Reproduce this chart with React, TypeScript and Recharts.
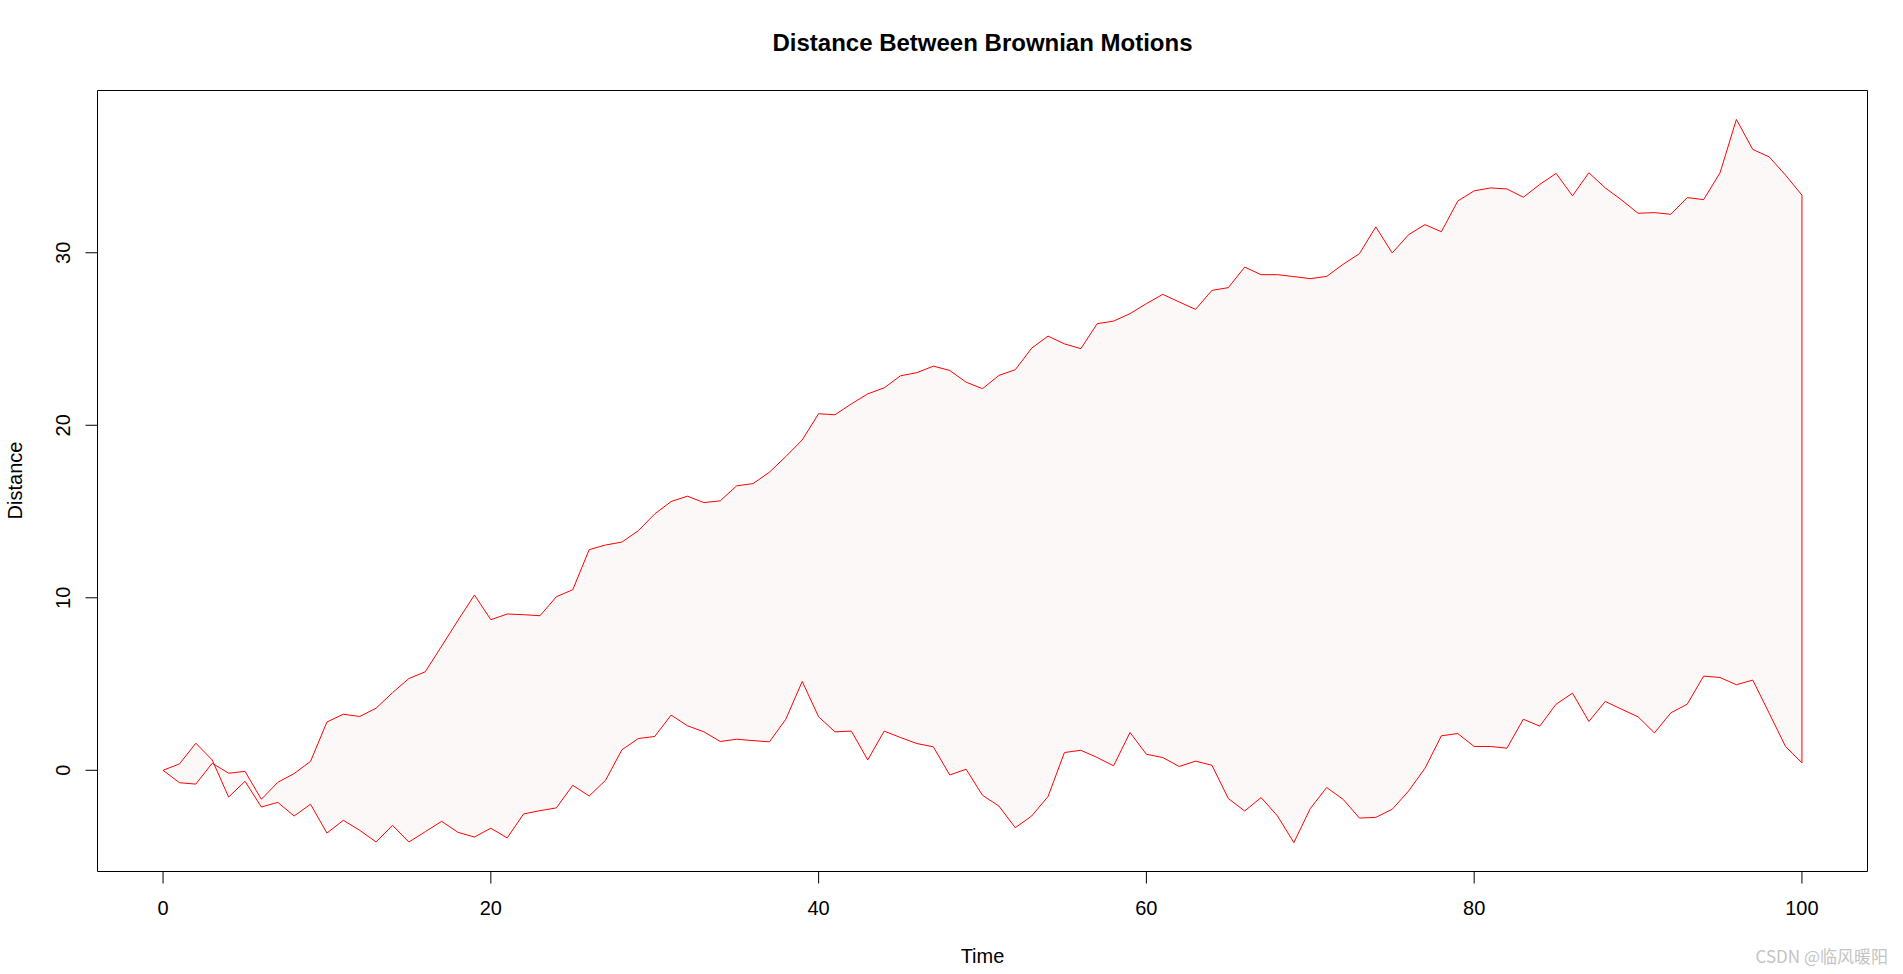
import {
  ComposedChart,
  Area,
  Line,
  XAxis,
  YAxis,
  ReferenceArea,
  ReferenceLine,
} from "recharts";

// two paths, t = 0..100
const motionA = [
  0, 0.37, 1.57, 0.6, -1.55, -0.64, -2.13, -1.86, -2.65, -1.97, -3.64,
  -2.9, -3.48, -4.16, -3.19, -4.16, -3.56, -2.96, -3.6, -3.87, -3.36,
  -3.92, -2.53, -2.34, -2.18, -0.87, -1.49, -0.58, 1.19, 1.84, 1.96,
  3.2, 2.58, 2.23, 1.67, 1.8, 1.72, 1.65, 2.96, 5.15, 3.1,
  2.23, 2.27, 0.6, 2.27, 1.9, 1.55, 1.36, -0.27, 0.06, -1.45,
  -2.07, -3.33, -2.65, -1.52, 1.03, 1.16, 0.74, 0.26, 2.19, 0.93,
  0.74, 0.22, 0.53, 0.29, -1.64, -2.36, -1.58, -2.65, -4.19, -2.22,
  -1.0, -1.68, -2.77, -2.73, -2.26, -1.2, 0.12, 2.0, 2.13, 1.38,
  1.38, 1.28, 2.96, 2.56, 3.83, 4.47, 2.83, 3.99, 3.54, 3.1,
  2.17, 3.33, 3.83, 5.46, 5.38, 4.96, 5.23, 3.31, 1.38, 0.43,
];

const motionB = [
  0, -0.72, -0.8, 0.41, -0.17, -0.06, -1.68, -0.7, -0.19, 0.52, 2.8,
  3.25, 3.12, 3.6, 4.5, 5.32, 5.71, 7.2, 8.7, 10.16, 8.73,
  9.06, 9.02, 8.96, 10.06, 10.47, 12.79, 13.06, 13.23, 13.89, 14.86,
  15.58, 15.89, 15.52, 15.62, 16.49, 16.62, 17.28, 18.19, 19.15, 20.67,
  20.61, 21.24, 21.82, 22.17, 22.87, 23.05, 23.43, 23.18, 22.5, 22.12,
  22.89, 23.22, 24.47, 25.17, 24.72, 24.44, 25.89, 26.04, 26.47, 27.05,
  27.59, 27.15, 26.72, 27.82, 27.98, 29.17, 28.73, 28.73, 28.62, 28.5,
  28.63, 29.33, 29.95, 31.5, 29.99, 31.05, 31.63, 31.22, 33.0, 33.59,
  33.76, 33.7, 33.22, 33.96, 34.6, 33.3, 34.64, 33.76, 33.06, 32.29,
  32.33, 32.23, 33.2, 33.08, 34.63, 37.73, 35.99, 35.56, 34.5, 33.34,
];

const xTicks = [0, 20, 40, 60, 80, 100];
const yTicks = [0, 10, 20, 30];

const rows = motionA.map((a, i) => ({
  time: i,
  a,
  b: motionB[i],
  band: [a, motionB[i]],
}));

// R-style 4% axis padding
const last = rows.length - 1;
const all = [...motionA, ...motionB];
const lo = Math.min(...all);
const hi = Math.max(...all);
const yDomain: [number, number] = [lo - 0.04 * (hi - lo), hi + 0.04 * (hi - lo)];
const xDomain: [number, number] = [-0.04 * last, last * 1.04];

const W = 1903;
const H = 974;
const FONT = '"Liberation Sans", Arial, sans-serif';

function XTick({ x, y, payload }: any) {
  return (
    <text x={x} y={y} dy={29.5} textAnchor="middle" fontSize={20} fill="#000" fontFamily={FONT}>
      {payload.value}
    </text>
  );
}

function YTick({ x, y, payload }: any) {
  const bx = x - 13.5;
  return (
    <text
      x={bx}
      y={y}
      transform={`rotate(-90, ${bx}, ${y})`}
      textAnchor="middle"
      fontSize={20}
      fill="#000"
      fontFamily={FONT}
    >
      {payload.value}
    </text>
  );
}

export default function App() {
  return (
    <div style={{ position: "absolute", left: 0, top: 0, width: W, height: H, background: "#fff" }}>
      <ComposedChart
        width={W}
        height={H}
        data={rows}
        margin={{ top: 90.5, right: 35.5, left: 0, bottom: 0 }}
      >
        <XAxis
          dataKey="time"
          type="number"
          domain={xDomain}
          ticks={xTicks}
          interval={0}
          allowDataOverflow
          height={102.5}
          axisLine={false}
          tickSize={12}
          stroke="#000"
          tickLine={{ stroke: "#000" }}
          tick={<XTick />}
        />
        <YAxis
          type="number"
          domain={yDomain}
          ticks={yTicks}
          interval={0}
          allowDataOverflow
          width={97.5}
          axisLine={false}
          tickSize={12}
          stroke="#000"
          tickLine={{ stroke: "#000" }}
          tick={<YTick />}
        />
        <Area
          dataKey="band"
          type="linear"
          stroke="none"
          fill="#fdf8f8"
          fillOpacity={1}
          isAnimationActive={false}
          activeDot={false}
        />
        <Line dataKey="a" type="linear" stroke="#ff0000" strokeWidth={1} dot={false} activeDot={false} isAnimationActive={false} />
        <Line dataKey="b" type="linear" stroke="#ff0000" strokeWidth={1} dot={false} activeDot={false} isAnimationActive={false} />
        <ReferenceLine
          segment={[
            { x: last, y: motionA[last] },
            { x: last, y: motionB[last] },
          ]}
          stroke="#ff0000"
          strokeWidth={1}
        />
        <ReferenceArea
          x1={xDomain[0]}
          x2={xDomain[1]}
          y1={yDomain[0]}
          y2={yDomain[1]}
          fill="none"
          stroke="#000"
          strokeOpacity={1}
          strokeWidth={1}
        />
      </ComposedChart>
      <svg
        width={W}
        height={H}
        style={{ position: "absolute", left: 0, top: 0, pointerEvents: "none" }}
      >
        <text x={982.5} y={51} textAnchor="middle" fontSize={24} fontWeight="bold" fontFamily={FONT} fill="#000">
          Distance Between Brownian Motions
        </text>
        <text x={982.5} y={963} textAnchor="middle" fontSize={20} fontFamily={FONT} fill="#000">
          Time
        </text>
        <text
          x={22}
          y={480.5}
          transform="rotate(-90, 22, 480.5)"
          textAnchor="middle"
          fontSize={20}
          fontFamily={FONT}
          fill="#000"
        >
          Distance
        </text>
        <text
          x={1888}
          y={963}
          textAnchor="end"
          fontSize={17}
          fontFamily={'"Noto Sans CJK SC", "Noto Sans", sans-serif'}
          fill="#c4c4c4"
        >
          CSDN @临风暖阳
        </text>
      </svg>
    </div>
  );
}
